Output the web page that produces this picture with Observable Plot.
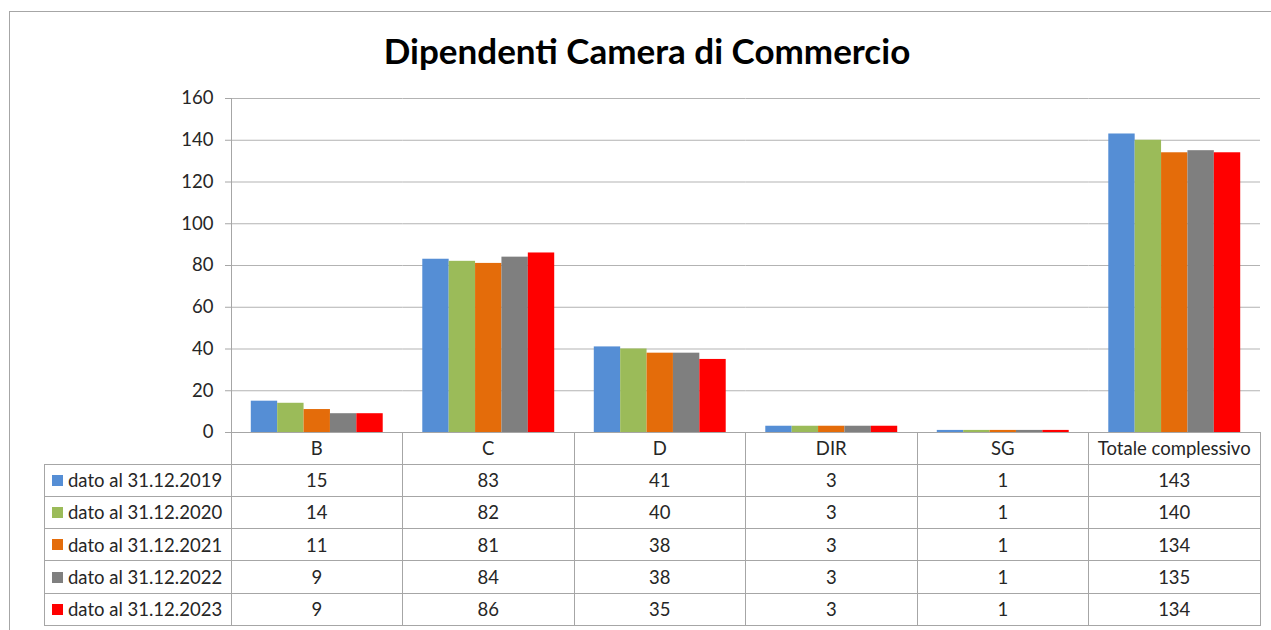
<!DOCTYPE html>
<html>
<head>
<meta charset="utf-8">
<script src="https://cdn.jsdelivr.net/npm/d3@7"></script>
<script src="https://cdn.jsdelivr.net/npm/@observablehq/plot@0.6"></script>
<style>
  html, body { margin: 0; padding: 0; background: #fff; }
  #wrap { position: relative; width: 1271px; height: 630px; overflow: hidden; font-family: Lato, "Open Sans", sans-serif; color: #262626; }
  #frame { position: absolute; left: 9px; top: 11px; width: 1300px; height: 700px; border: 1px solid #a6a6a6; box-sizing: border-box; }
  #title { position: absolute; left: 0; width: 1294px; top: 27px; text-align: center; font-weight: 700; font-size: 35px; line-height: 46px; color: #000; }
  #chart { position: absolute; left: 0; top: 0; }
  #chart svg g[aria-label="y-axis tick"] path { stroke: #a6a6a6; }
  .hl { position: absolute; height: 1px; background: #a6a6a6; }
  .vl { position: absolute; width: 1px; background: #a6a6a6; }
  .cell { position: absolute; text-align: center; font-size: 18.5px; white-space: nowrap; display: flex; align-items: center; justify-content: center; }
  .lab { position: absolute; font-size: 18.5px; white-space: nowrap; display: flex; align-items: center; }
  .sw { display: inline-block; width: 11px; height: 11px; margin-right: 5px; }
</style>
</head>
<body>
<div id="wrap">
  <div id="frame"></div>
  <div id="title">Dipendenti Camera di Commercio</div>
  <div id="chart"></div>
  <div id="table"></div>
</div>
<script>
const categories = ["B", "C", "D", "DIR", "SG", "Totale complessivo"];
const seriesNames = ["dato al 31.12.2019", "dato al 31.12.2020", "dato al 31.12.2021", "dato al 31.12.2022", "dato al 31.12.2023"];
const values2019 = [15, 83, 41, 3, 1, 143];
const values2020 = [14, 82, 40, 3, 1, 140];
const values2021 = [11, 81, 38, 3, 1, 134];
const values2022 = [9, 84, 38, 3, 1, 135];
const values2023 = [9, 86, 35, 3, 1, 134];
const seriesValues = [values2019, values2020, values2021, values2022, values2023];
const yTicks = [0, 20, 40, 60, 80, 100, 120, 140, 160];
const colors = ["#558ED5", "#9BBB59", "#E46C0A", "#7F7F7F", "#FF0000"];

const rows = seriesNames.flatMap((s, i) =>
  categories.map((c, j) => ({ category: c, series: s, value: seriesValues[i][j] }))
);

// layout
const W = 1271, H = 440, mTop = 98, mBottom = 8, mLeft = 231, mRight = 11;

const chart = Plot.plot({
  width: W,
  height: H,
  marginTop: mTop,
  marginBottom: mBottom,
  marginLeft: mLeft,
  marginRight: mRight,
  style: { fontFamily: "Lato, 'Open Sans', sans-serif", fontSize: "18.5px", color: "#262626", background: "transparent", overflow: "visible" },
  fx: { domain: categories, padding: 0, axis: null, round: false, label: null },
  x: { domain: seriesNames, paddingInner: 0, paddingOuter: 0.75, axis: null, round: false },
  y: { domain: [0, 160], ticks: yTicks, tickSize: 6, tickPadding: 12, label: null, tickFormat: d => String(d) },
  color: { domain: seriesNames, range: colors },
  marks: [
    Plot.ruleY(yTicks.slice(1), { stroke: "#b3b3b3", strokeWidth: 1 }),
    Plot.barY(rows, { fx: "category", x: "series", y: "value", fill: "series" }),
    Plot.ruleY([0], { stroke: "#a6a6a6", strokeWidth: 1 })
  ]
});
document.getElementById("chart").appendChild(chart);

// data table below the chart
const table = document.getElementById("table");
const colW = (W - mLeft - mRight) / categories.length;
const labelLeft = 44;
const top0 = H - mBottom; // 432
const headerH = 32;
const rowH = 32.3;
const tableBottom = top0 + headerH + rowH * seriesNames.length;
function add(cls, css, html) {
  const d = document.createElement("div");
  d.className = cls;
  Object.assign(d.style, css);
  if (html !== undefined) d.innerHTML = html;
  table.appendChild(d);
  return d;
}
// y axis line continuing into table
add("vl", { left: (mLeft - 0.5) + "px", top: mTop + "px", height: (tableBottom - mTop) + "px" });
// column separators
for (let j = 1; j <= categories.length; j++) {
  const x = mLeft + j * colW;
  add("vl", { left: (x - 0.5) + "px", top: top0 + "px", height: (tableBottom - top0) + "px" });
}
// label column left edge
add("vl", { left: (labelLeft - 0.5) + "px", top: (top0 + headerH) + "px", height: (tableBottom - top0 - headerH) + "px" });
// horizontal lines
for (let i = 0; i <= seriesNames.length; i++) {
  const y = top0 + headerH + i * rowH;
  add("hl", { left: labelLeft + "px", top: (y - 0.5) + "px", width: (W - mRight - labelLeft) + "px" });
}
// header cells
categories.forEach((c, j) => {
  add("cell", { left: (mLeft + j * colW) + "px", top: top0 + "px", width: colW + "px", height: headerH + "px" }, c);
});
// rows
seriesNames.forEach((s, i) => {
  const y = top0 + headerH + i * rowH;
  add("lab", { left: (labelLeft + 8) + "px", top: y + "px", height: rowH + "px" },
    `<span class="sw" style="background:${colors[i]}"></span>${s}`);
  categories.forEach((c, j) => {
    add("cell", { left: (mLeft + j * colW) + "px", top: y + "px", width: colW + "px", height: rowH + "px" }, String(seriesValues[i][j]));
  });
});
</script>
</body>
</html>
